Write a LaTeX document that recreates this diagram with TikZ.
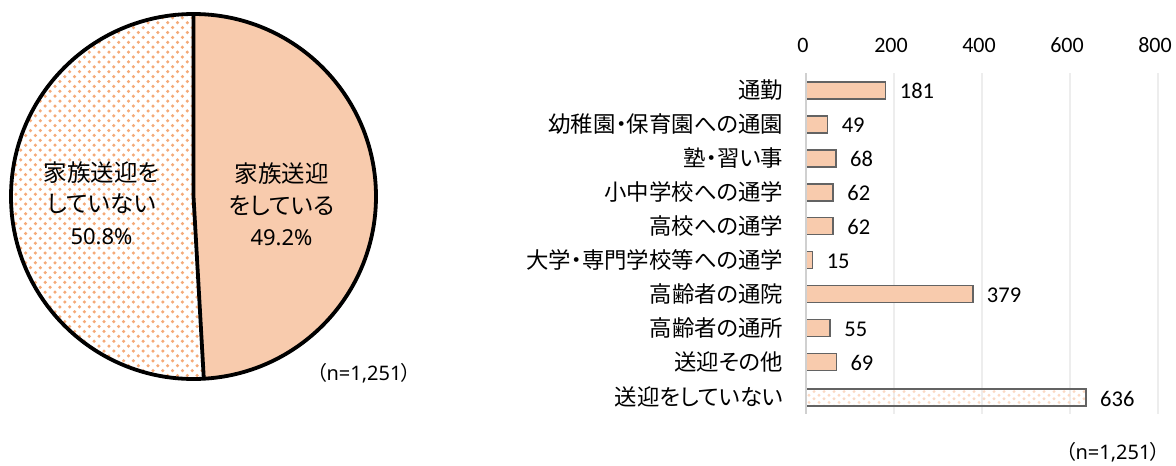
\documentclass[tikz,border=0pt]{standalone}
\usepackage{fontspec}
\setmainfont{Carlito}
\newfontfamily\jpfont[RawFeature={+palt}]{Noto Sans CJK JP}
\newfontfamily\latfont{Noto Sans}
\definecolor{peach}{HTML}{F8CBAD}
\definecolor{dotpie}{HTML}{F5AA78}
\definecolor{dotbar}{HTML}{FBD9C3}
\definecolor{barline}{HTML}{636363}
\definecolor{gridc}{HTML}{EDEDED}
\definecolor{axisc}{HTML}{D0D0D0}
\tikzset{
  x=1pt,y=-1pt,
  pielabel/.style={font=\fontsize{23.5}{31.5}\selectfont\jpfont,align=center,inner sep=0pt,text=black},
  catlabel/.style={font=\fontsize{22.4}{24}\selectfont\jpfont,anchor=east,inner sep=0pt,text=black},
  vallabel/.style={font=\fontsize{22.5}{24}\selectfont,anchor=west,inner sep=0pt,text=black},
  ticklabel/.style={font=\fontsize{22}{24}\selectfont,inner sep=0pt,text=black},
  nlabel/.style={font=\fontsize{20}{24}\selectfont\latfont,inner sep=0pt,text=black},
  gridline/.style={draw=gridc,line width=1.2pt},
  axisline/.style={draw=axisc,line width=1.6pt},
  barbox/.style={draw=barline,line width=1.7pt},
  pieedge/.style={draw=black,line width=3.8pt},
}
\begin{document}
\begin{tikzpicture}
\useasboundingbox (0,0) rectangle (1176,466);
\fill[white] (0,0) rectangle (1176,466);
% pie
\coordinate (pc) at (193.5,196.5);
\coordinate (ptop) at (193.5,14);
\coordinate (pbot) at (203.8,378.7);
\begin{scope}
  \clip (pc) circle [radius=182.5];
  \foreach \r in {0,...,78}{
    \foreach \c in {0,...,40}{
      \pgfmathsetmacro{\px}{6+\c*9.8+mod(\r,2)*4.9}
      \pgfmathsetmacro{\py}{8+\r*4.9}
      \fill[dotpie] (\px,\py) circle [radius=1.75];
    }
  }
  \fill[peach] (ptop) -- (pc) -- (pbot) -- (400,400) -- (400,0) -- cycle;
\end{scope}
\draw[pieedge] (pc) circle [radius=182.5];
\draw[pieedge,line join=round] (ptop) -- (pc) -- (pbot);
\node[pielabel] (pr) at (281.5,204.5) {家族送迎\\をしている\\{\latfont\fontsize{22}{31.5}\selectfont 49.2\%}};
\node[pielabel] (pl) at (101.5,203) {家族送迎を\\していない\\{\latfont\fontsize{22}{31.5}\selectfont 50.8\%}};
\node[nlabel] (n1) at (364,373) {{\jpfont（}n=1,251{\jpfont）}};
% grid
\foreach \v/\n in {200/b,400/c,600/d,800/e}{
  \pgfmathsetmacro{\gx}{806+\v*0.44}
  \coordinate (g\n t) at (\gx,73);
  \coordinate (g\n b) at (\gx,414);
  \draw[gridline] (g\n t) -- (g\n b);
}
\foreach \v in {0,200,400,600,800}{
  \pgfmathsetmacro{\gx}{803+\v*0.44}
  \node[ticklabel] (tick\v) at (\gx,45) {\v};
}
\coordinate (axt) at (806,73);
\coordinate (axb) at (806,414);
% bars
\foreach \i/\v/\t in {0/181/通勤,1/49/幼稚園・保育園への通園,2/68/塾・習い事,3/62/小中学校への通学,4/62/高校への通学,5/15/大学・専門学校等への通学,6/379/高齢者の通院,7/55/高齢者の通所,8/69/送迎その他}{
  \pgfmathsetmacro{\cy}{90.3+\i*33.96}
  \pgfmathsetmacro{\bw}{806+\v*0.44}
  \path[barbox,fill=peach] (806,\cy-8.5) rectangle (\bw,\cy+8.5);
  \node[catlabel] (cat\i) at (783.5,\cy) {\t};
  \node[vallabel] (val\i) at (\bw+14,\cy+1) {\v};
}
% last bar
\begin{scope}
  \clip (806,389) rectangle (1086,406);
  \foreach \r in {0,...,6}{
    \foreach \c in {0,...,28}{
      \pgfmathsetmacro{\px}{809+\c*10+mod(\r,2)*5}
      \pgfmathsetmacro{\py}{388+\r*3.6}
      \fill[dotbar] (\px,\py) circle [radius=1.6];
    }
  }
\end{scope}
\path[barbox] (806,389) rectangle (1086,406);
\node[catlabel] (cat9) at (783.5,396.5) {送迎をしていない};
\node[vallabel] (val9) at (1100,398.5) {636};
\draw[axisline] (axt) -- (axb);
\node[nlabel] (n2) at (1113,452.5) {{\jpfont（}n=1,251{\jpfont）}};
\end{tikzpicture}
\end{document}
